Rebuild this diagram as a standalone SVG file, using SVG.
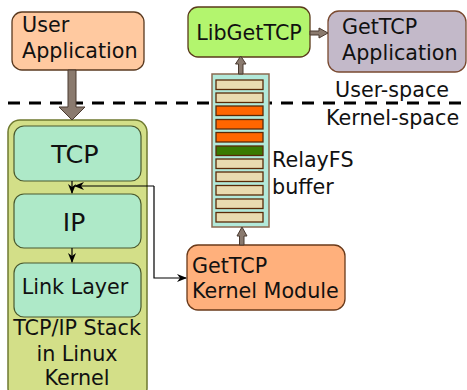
<svg xmlns="http://www.w3.org/2000/svg" width="467" height="390" viewBox="0 0 467 390">
  <defs>
    <style>
      text { font-family: "DejaVu Sans", "Liberation Sans", sans-serif; fill: #111; font-size: 20.7px; }
      .mid { text-anchor: middle; }
      .layer { fill: #aee9c8; stroke: #4a5a30; stroke-width: 1.2; }
      .bar { stroke: #5a2a08; stroke-width: 1.3; }
      .beige { fill: #e9dbb0; }
      .orange { fill: #ff6600; }
      .green { fill: #3a7a00; }
      .thin { fill: none; stroke: #000; stroke-width: 1.2; }
      .fat { fill: #8a7a6e; stroke: #4a3a30; stroke-width: 1; }
    </style>
    <marker id="head" markerWidth="10" markerHeight="8" refX="9" refY="4" orient="auto" markerUnits="userSpaceOnUse">
      <path d="M0,0 L10,4 L0,8 L3,4 Z" fill="#000"/>
    </marker>
  </defs>

  <rect width="467" height="390" fill="#fff"/>

  <!-- user / kernel boundary -->
  <line x1="8" y1="103" x2="462" y2="103" stroke="#000" stroke-width="3" stroke-dasharray="12,9"/>
  <text x="335" y="97">User-space</text>
  <text x="326" y="125">Kernel-space</text>

  <!-- TCP/IP stack -->
  <g id="stack">
    <rect x="8" y="120" width="139" height="280" rx="12" fill="#d3df88" stroke="#6f7a30" stroke-width="1.5"/>
    <text class="mid" x="77" y="335">TCP/IP Stack</text>
    <text class="mid" x="77" y="361">in Linux</text>
    <text class="mid" x="77" y="385">Kernel</text>
  </g>
  <g id="tcp">
    <rect class="layer" x="14" y="126" width="127" height="55" rx="10"/>
    <text class="mid" x="75" y="163" style="font-size:25.5px">TCP</text>
  </g>
  <g id="ip">
    <rect class="layer" x="14" y="194" width="127" height="54" rx="10"/>
    <text class="mid" x="74" y="231" style="font-size:25px">IP</text>
  </g>
  <g id="link">
    <rect class="layer" x="14" y="263" width="127" height="54" rx="10"/>
    <text class="mid" x="75" y="294">Link Layer</text>
  </g>

  <!-- user application -->
  <g id="userapp">
    <rect x="12" y="12" width="132" height="58" rx="10" fill="#ffc9a0" stroke="#5a3a20" stroke-width="1.3"/>
    <text x="22" y="32">User</text>
    <text x="22" y="58">Application</text>
  </g>

  <!-- libgettcp -->
  <g id="libgettcp">
    <rect x="188" y="7" width="122" height="50" rx="10" fill="#b3f56e" stroke="#5a3a1a" stroke-width="1.3"/>
    <text class="mid" x="249" y="40">LibGetTCP</text>
  </g>

  <!-- gettcp application -->
  <g id="gettcpapp">
    <rect x="328" y="11" width="138" height="61" rx="11" fill="#c3b9c9" stroke="#7a4a30" stroke-width="1.3"/>
    <text x="342" y="34">GetTCP</text>
    <text x="342" y="60">Application</text>
  </g>

  <!-- relayfs buffer -->
  <g id="relayfs">
    <rect x="212" y="74" width="57" height="153" fill="#b2e9da" stroke="#8a6a50" stroke-width="1.5"/>
    <rect class="bar beige" x="216" y="80" width="47" height="9.5"/>
    <rect class="bar beige" x="216" y="93" width="47" height="9.5"/>
    <rect class="bar orange" x="216" y="106" width="47" height="9.5"/>
    <rect class="bar orange" x="216" y="119.5" width="47" height="9.5"/>
    <rect class="bar orange" x="216" y="132.5" width="47" height="9.5"/>
    <rect class="bar green" x="216" y="146" width="47" height="9.5"/>
    <rect class="bar beige" x="216" y="159" width="47" height="9.5"/>
    <rect class="bar beige" x="216" y="172" width="47" height="9.5"/>
    <rect class="bar beige" x="216" y="185.5" width="47" height="9.5"/>
    <rect class="bar beige" x="216" y="199" width="47" height="9.5"/>
    <rect class="bar beige" x="216" y="212.5" width="47" height="9.5"/>
    <text x="272" y="167">RelayFS</text>
    <text x="272" y="194">buffer</text>
  </g>

  <!-- gettcp kernel module -->
  <g id="kmod">
    <rect x="187" y="245" width="158" height="65" rx="11" fill="#ffb07c" stroke="#6a3a1a" stroke-width="1.3"/>
    <text x="192" y="273">GetTCP</text>
    <text x="192" y="298">Kernel Module</text>
  </g>

  <!-- connectors -->
  <g id="connectors">
    <!-- user application into the stack -->
    <path class="fat" d="M68,70 L76,70 L76,107 L85,107 L72,120 L59,107 L68,107 Z"/>
    <!-- buffer to library -->
    <path class="fat" d="M238.5,74 L243,74 L243,64 L246,64 L240.7,56 L235.5,64 L238.5,64 Z"/>
    <!-- library to application -->
    <path class="fat" d="M310,31 L319,31 L319,28 L328,33 L319,38 L319,35 L310,35 Z"/>
    <!-- kernel module to buffer -->
    <path class="fat" d="M239.5,245 L244,245 L244,236 L247,236 L242,227 L237,236 L239.5,236 Z"/>
    <!-- between layers -->
    <line class="thin" x1="72" y1="181" x2="72" y2="193" marker-end="url(#head)"/>
    <line class="thin" x1="72" y1="248" x2="72" y2="262" marker-end="url(#head)"/>
    <!-- hook between stack and kernel module -->
    <path class="thin" d="M154,186 L75,186" marker-end="url(#head)"/>
    <path class="thin" d="M154,186 L154,278 L186,278" marker-end="url(#head)"/>
  </g>
</svg>
